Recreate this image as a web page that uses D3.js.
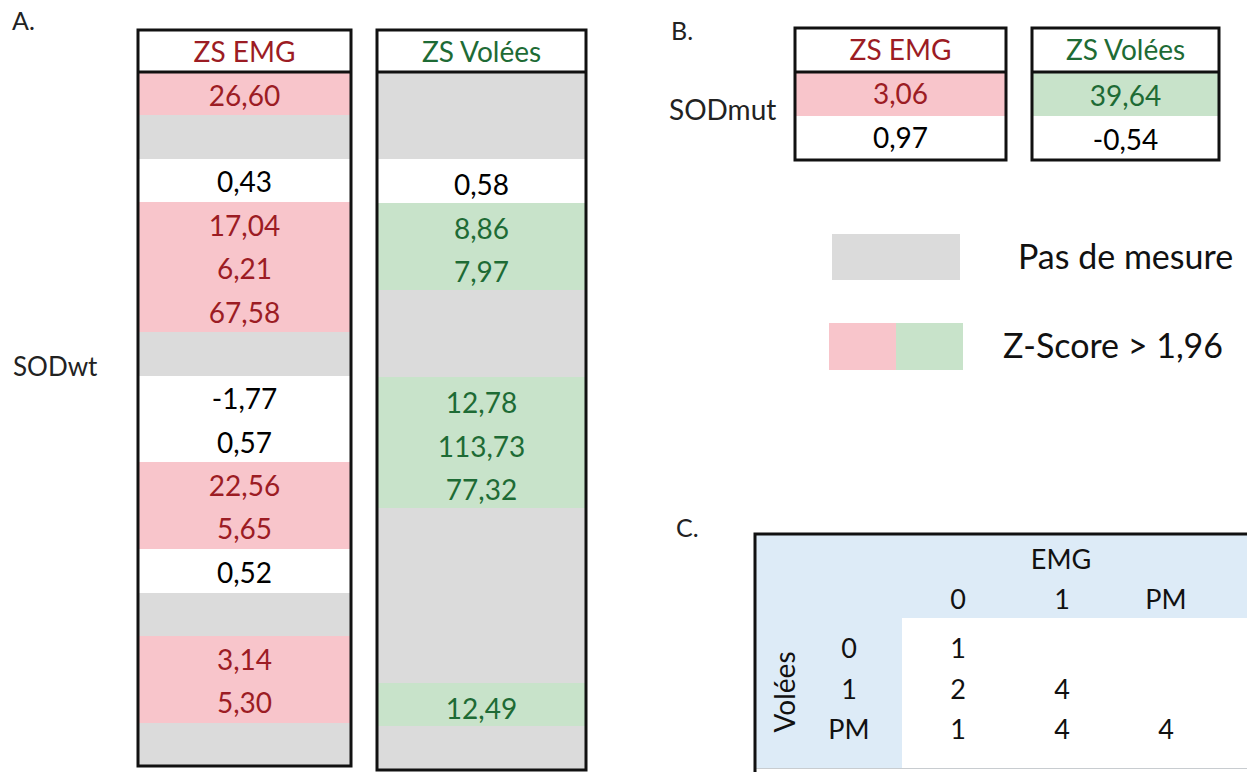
<!DOCTYPE html>
<html>
<head>
<meta charset="utf-8">
<script src="https://cdn.jsdelivr.net/npm/d3@7"></script>
<style>
  html, body { margin: 0; padding: 0; background: #fff; }
  svg { display: block; font-family: Lato, "Open Sans", sans-serif; }
</style>
</head>
<body>
<svg id="chart" width="1247" height="772"></svg>
<script>
// ---------- DATA ----------
const threshold = 1.96;
const columnsA = ["ZS EMG", "ZS Volées"];
const rowsA = d3.range(16);
const emgA = [26.60, null, 0.43, 17.04, 6.21, 67.58, null, -1.77, 0.57, 22.56, 5.65, 0.52, null, 3.14, 5.30, null];
const voleesA = [null, null, 0.58, 8.86, 7.97, null, null, 12.78, 113.73, 77.32, null, null, null, null, 12.49, null];
const rowLabelA = "SODwt";

const columnsB = ["ZS EMG", "ZS Volées"];
const emgB = [3.06, 0.97];
const voleesB = [39.64, -0.54];
const rowLabelB = "SODmut";

const legendLabels = ["Pas de mesure", "Z-Score > 1,96"];

const emgLevels = ["0", "1", "PM"];
const voleesLevels = ["0", "1", "PM"];
const countsC = [[1, null, null], [2, 4, null], [1, 4, 4]];

// ---------- STYLE ----------
const colors = {
  gray: "#DBDBDB",
  pink: "#F8C5CB", red: "#9C1C24",
  green: "#C8E3CA", darkGreen: "#1E6B35",
  blue: "#DDEBF7", border: "#111"
};
const fmt = v => d3.format(".2f")(v).replace(".", ",").replace("−", "-");

const svg = d3.select("#chart");

function cellStyle(v, kind) {
  if (v === null) return { fill: colors.gray, text: "#000" };
  if (v > threshold) return kind === "emg" ? { fill: colors.pink, text: colors.red } : { fill: colors.green, text: colors.darkGreen };
  return { fill: "#fff", text: "#000" };
}

// Draws one boxed column: header + body rows
function drawColumn(g, opt) {
  const { x0, x1, top, headBottom, bottom, title, kind, values, fontSize, textDy, headDy } = opt;
  const y = d3.scaleBand().domain(d3.range(values.length)).range([headBottom, bottom]).padding(0);
  const cx = (x0 + x1) / 2;
  const cells = g.append("g");
  values.forEach((v, i) => {
    const st = cellStyle(v, kind);
    const ya = Math.round(y(i)), yb = Math.round(y(i) + y.bandwidth());
    cells.append("rect").attr("x", x0).attr("y", ya).attr("width", x1 - x0).attr("height", yb - ya)
      .attr("fill", st.fill).attr("shape-rendering", "crispEdges");
    if (v !== null) {
      cells.append("text").attr("x", cx).attr("y", y(i) + y.bandwidth() / 2 + textDy)
        .attr("text-anchor", "middle").attr("font-size", fontSize).attr("fill", st.text).text(fmt(v));
    }
  });
  // header
  g.append("text").attr("x", cx).attr("y", (top + headBottom) / 2 + headDy)
    .attr("text-anchor", "middle").attr("font-size", fontSize)
    .attr("fill", kind === "emg" ? colors.red : colors.darkGreen).text(title);
  g.append("line").attr("x1", x0).attr("x2", x1).attr("y1", headBottom).attr("y2", headBottom)
    .attr("stroke", colors.border).attr("stroke-width", 3);
  g.append("rect").attr("x", x0).attr("y", top).attr("width", x1 - x0).attr("height", bottom - top)
    .attr("fill", "none").attr("stroke", colors.border).attr("stroke-width", 3);
}

// ---------- PANEL A ----------
const gA = svg.append("g");
gA.append("text").attr("x", 12).attr("y", 30).attr("font-size", 25).attr("fill", "#222").text("A.");
gA.append("text").attr("x", 13).attr("y", 376).attr("font-size", 26).attr("fill", "#222").text(rowLabelA);
drawColumn(gA, { x0: 138, x1: 351, top: 30, headBottom: 72, bottom: 766, title: columnsA[0], kind: "emg",
  values: emgA, fontSize: 28, textDy: 12, headDy: 10.5 });
drawColumn(gA, { x0: 377, x1: 586, top: 30, headBottom: 72, bottom: 770, title: columnsA[1], kind: "vol",
  values: voleesA, fontSize: 28, textDy: 14, headDy: 10.5 });

// ---------- PANEL B ----------
const gB = svg.append("g");
gB.append("text").attr("x", 671).attr("y", 40).attr("font-size", 25).attr("fill", "#222").text("B.");
gB.append("text").attr("x", 669).attr("y", 120).attr("font-size", 28).attr("fill", "#222").text(rowLabelB);
drawColumn(gB, { x0: 795, x1: 1006, top: 28, headBottom: 72, bottom: 160, title: columnsB[0], kind: "emg",
  values: emgB, fontSize: 28, textDy: 10, headDy: 10 });
drawColumn(gB, { x0: 1032, x1: 1219, top: 28, headBottom: 72, bottom: 160, title: columnsB[1], kind: "vol",
  values: voleesB, fontSize: 28, textDy: 12, headDy: 10 });

// ---------- LEGEND ----------
const gL = svg.append("g");
const ly = d3.scalePoint().domain(legendLabels).range([257, 346]);
gL.append("rect").attr("x", 832).attr("y", 234).attr("width", 128).attr("height", 46).attr("fill", colors.gray);
gL.append("rect").attr("x", 829).attr("y", 323).attr("width", 67).attr("height", 47).attr("fill", colors.pink);
gL.append("rect").attr("x", 896).attr("y", 323).attr("width", 67).attr("height", 47).attr("fill", colors.green);
gL.selectAll("text.leg").data(legendLabels).join("text").attr("class", "leg")
  .attr("x", (d, i) => i === 0 ? 1018 : 1003).attr("y", d => ly(d) + 12)
  .attr("font-size", 34).attr("fill", "#111").text(d => d);

// ---------- PANEL C ----------
const gC = svg.append("g");
gC.append("text").attr("x", 676).attr("y", 537).attr("font-size", 25).attr("fill", "#222").text("C.");
gC.append("rect").attr("x", 755).attr("y", 534).attr("width", 520).attr("height", 234).attr("fill", colors.blue);
gC.append("rect").attr("x", 902).attr("y", 618).attr("width", 360).attr("height", 150).attr("fill", "#fff");
gC.append("line").attr("x1", 755).attr("x2", 1247).attr("y1", 768.5).attr("y2", 768.5).attr("stroke", "#c8ccd0").attr("stroke-width", 1);
gC.append("path").attr("d", "M755,772 L755,534 L1247,534").attr("fill", "none").attr("stroke", colors.border).attr("stroke-width", 3);

const xC = d3.scalePoint().domain(emgLevels).range([958, 1166]);
const yC = d3.scalePoint().domain(voleesLevels).range([658, 739]);
gC.append("text").attr("x", 1061).attr("y", 569).attr("text-anchor", "middle").attr("font-size", 27).attr("fill", "#111").text("EMG");
gC.selectAll("text.colh").data(emgLevels).join("text").attr("class", "colh")
  .attr("x", d => xC(d)).attr("y", 609).attr("text-anchor", "middle").attr("font-size", 27).attr("fill", "#111").text(d => d);
gC.selectAll("text.rowh").data(voleesLevels).join("text").attr("class", "rowh")
  .attr("x", 849).attr("y", d => yC(d)).attr("text-anchor", "middle").attr("font-size", 27).attr("fill", "#111").text(d => d);
gC.append("text").attr("transform", "translate(795,692) rotate(-90)").attr("text-anchor", "middle")
  .attr("font-size", 28).attr("fill", "#111").text("Volées");
countsC.forEach((row, i) => {
  row.forEach((v, j) => {
    if (v === null) return;
    gC.append("text").attr("x", xC(emgLevels[j])).attr("y", yC(voleesLevels[i]))
      .attr("text-anchor", "middle").attr("font-size", 27).attr("fill", "#111").text(v);
  });
});
</script>
</body>
</html>
